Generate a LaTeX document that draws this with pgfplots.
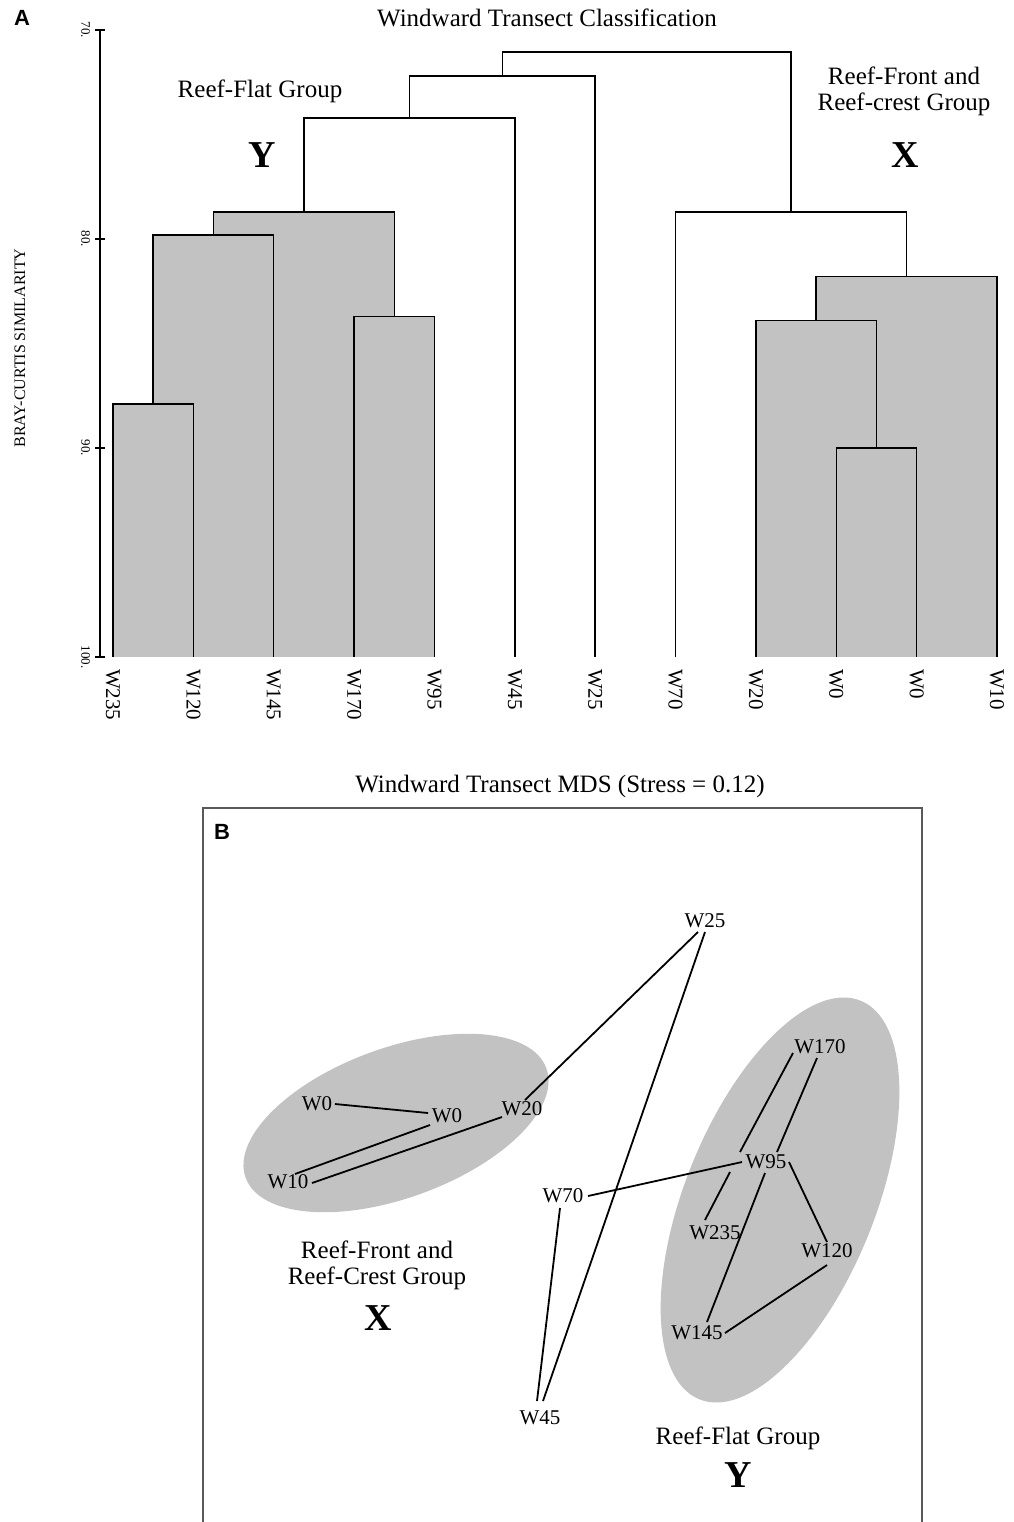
\documentclass[border=0pt]{standalone}
\usepackage{pgfplots}
\pgfplotsset{compat=1.18}
\usepackage{fontspec}
\setmainfont{Liberation Serif}
\newfontfamily\sansb{Liberation Sans}
\definecolor{stip}{gray}{0.76}
\definecolor{frame}{gray}{0.35}
\begin{document}
\begin{tikzpicture}
\path[use as bounding box] (0pt,0pt) rectangle (506.5pt,-761pt);

% ---------------- Panel A : dendrogram ----------------
\begin{axis}[
  at={(50pt,-328.5pt)}, anchor=south west,
  scale only axis, width=455pt, height=313.5pt,
  xmin=-0.162, xmax=11.162, ymin=-100, ymax=-70,
  axis x line=bottom, axis y line=left,
  x axis line style={draw=none},
  y axis line style={-, line width=0.7pt, black},
  xtick={0,...,11},
  xticklabels={W235,W120,W145,W170,W95,W45,W25,W70,W20,W0,W0,W10},
  xtick style={draw=none},
  xticklabel style={rotate=-90, anchor=west, font=\fontsize{10.5}{12}\selectfont},
  ytick={-100,-90,-80,-70},
  yticklabels={100.,90.,80.,70.},
  tick align=center, major tick length=5pt,
  ytick style={line width=0.6pt, black},
  yticklabel style={rotate=-90, anchor=north, font=\fontsize{6.5}{7}\selectfont},
  yticklabel shift=-1pt,
  clip=false,
]
% grey clusters (left group)
\addplot[fill=stip, draw=black, line width=0.75pt] coordinates {(1.25,-100)(1.25,-78.7)(3.5,-78.7)(3.5,-100)};
\addplot[fill=stip, draw=black, line width=0.75pt] coordinates {(0.5,-100)(0.5,-79.8)(2,-79.8)(2,-100)};
\addplot[fill=stip, draw=black, line width=0.75pt] coordinates {(3,-100)(3,-83.7)(4,-83.7)(4,-100)};
\addplot[fill=stip, draw=black, line width=0.75pt] coordinates {(0,-100)(0,-87.9)(1,-87.9)(1,-100)};
% grey clusters (right group)
\addplot[fill=stip, draw=black, line width=0.75pt] coordinates {(8.75,-100)(8.75,-81.8)(11,-81.8)(11,-100)};
\addplot[fill=stip, draw=black, line width=0.75pt] coordinates {(8,-100)(8,-83.9)(9.5,-83.9)(9.5,-100)};
\addplot[fill=stip, draw=black, line width=0.75pt] coordinates {(9,-100)(9,-90.0)(10,-90.0)(10,-100)};
% open brackets
\addplot[black, line width=0.75pt] coordinates {(2.375,-78.7)(2.375,-74.2)(5,-74.2)(5,-100)};
\addplot[black, line width=0.75pt] coordinates {(3.6875,-74.2)(3.6875,-72.2)(6,-72.2)(6,-100)};
\addplot[black, line width=0.75pt] coordinates {(7,-100)(7,-78.7)(9.875,-78.7)(9.875,-81.8)};
\addplot[black, line width=0.75pt] coordinates {(4.84375,-72.2)(4.84375,-71.05)(8.4375,-71.05)(8.4375,-78.7)};
\end{axis}

\node[font=\sansb\bfseries\fontsize{11}{12}\selectfont] at (11pt,-9pt) {A};
\node[font=\fontsize{12.5}{13}\selectfont] at (273.5pt,-9pt) {Windward Transect Classification};
\node[font=\fontsize{12.5}{13}\selectfont] at (130pt,-45.5pt) {Reef-Flat Group};
\node[font=\fontsize{19}{20}\selectfont\bfseries] at (131pt,-77.5pt) {Y};
\node[font=\fontsize{12.5}{13}\selectfont, align=center] at (452pt,-45.5pt) {Reef-Front and\\Reef-crest Group};
\node[font=\fontsize{19}{20}\selectfont\bfseries] at (452.5pt,-77.5pt) {X};
\node[font=\fontsize{8}{9}\selectfont, rotate=90] at (10pt,-174pt) {BRAY-CURTIS SIMILARITY};

% ---------------- Panel B : MDS ----------------
\node[font=\fontsize{12.5}{13}\selectfont] at (280pt,-393pt) {Windward Transect MDS (Stress = 0.12)};
\begin{axis}[
  at={(101.5pt,-761pt)}, anchor=south west,
  scale only axis, width=359.5pt, height=357pt,
  xmin=0, xmax=719, ymin=0, ymax=714,
  hide axis, clip=false,
]
\draw[frame, line width=0.8pt] (rel axis cs:0,0) -- (rel axis cs:0,1) -- (rel axis cs:1,1) -- (rel axis cs:1,0);
\fill[stip, rotate around={20:(axis cs:193,399)}] (axis cs:193,399) ellipse [x radius=80pt, y radius=37.5pt];
\fill[stip, rotate around={68:(axis cs:577,322)}] (axis cs:577,322) ellipse [x radius=107.5pt, y radius=47.5pt];
\addplot[black, line width=0.9pt, unbounded coords=jump] coordinates {
 (132,418)(225,409) (nan,nan)
 (92,348)(227,397) (nan,nan)
 (109,339)(299,405) (nan,nan)
 (322,422)(495,590) (nan,nan)
 (502,590)(340,121) (nan,nan)
 (357,314)(334,121) (nan,nan)
 (385,326)(539,360) (nan,nan)
 (590,469)(537,370) (nan,nan)
 (527,350)(502,302) (nan,nan)
 (614,464)(574,370) (nan,nan)
 (562,349)(504,200) (nan,nan)
 (586,360)(624,280) (nan,nan)
 (624,257)(522,189)
};
\addplot[draw=none, mark=none, nodes near coords, point meta=explicit symbolic,
  every node near coord/.append style={anchor=center, font=\fontsize{10.5}{12}\selectfont, inner sep=0pt}]
 table[meta=lab] {
x y lab
502 601 W25
114 418 W0
244 406 W0
319 413 W20
85 340 W10
360 326 W70
337 104 W45
617 475 W170
563 360 W95
512 289 W235
624 271 W120
494 189 W145
};
\end{axis}
\node[font=\sansb\bfseries\fontsize{11}{12}\selectfont] at (111pt,-416pt) {B};
\node[font=\fontsize{12.5}{13}\selectfont, align=center] at (188.5pt,-632.5pt) {Reef-Front and\\Reef-Crest Group};
\node[font=\fontsize{19}{20}\selectfont\bfseries] at (189pt,-659pt) {X};
\node[font=\fontsize{12.5}{13}\selectfont] at (369pt,-719pt) {Reef-Flat Group};
\node[font=\fontsize{19}{20}\selectfont\bfseries] at (369pt,-737.5pt) {Y};
\end{tikzpicture}
\end{document}
